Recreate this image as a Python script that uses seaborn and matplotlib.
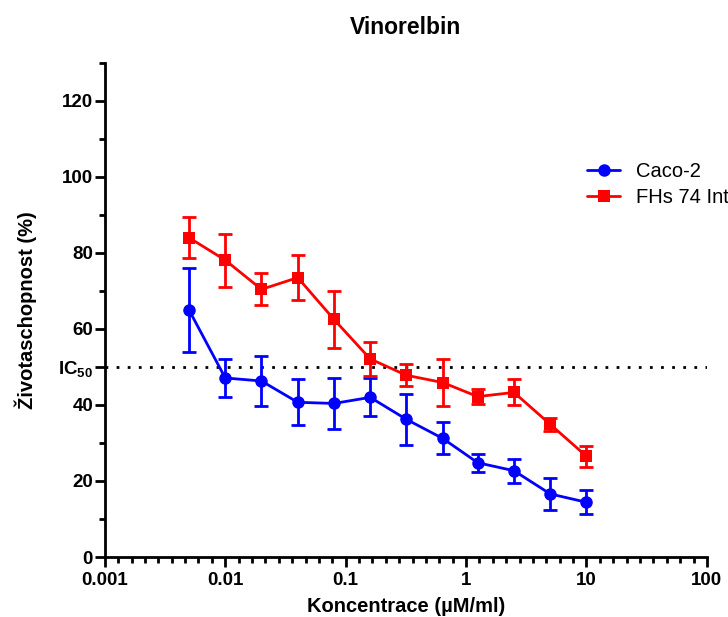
import numpy as np
import pandas as pd
import seaborn as sns
import matplotlib
matplotlib.use('Agg')
import matplotlib.pyplot as plt
from matplotlib.ticker import FixedLocator, NullFormatter

# Data
concentrations = [0.005, 0.01, 0.02, 0.04, 0.08, 0.16, 0.32, 0.64, 1.25, 2.5, 5, 10]
caco2_mean = [65.0, 47.1, 46.3, 40.7, 40.4, 42.0, 36.2, 31.2, 24.8, 22.7, 16.6, 14.4]
caco2_err = [11.0, 5.0, 6.6, 6.0, 6.7, 5.0, 6.8, 4.2, 2.4, 3.2, 4.1, 3.1]
fhs_mean = [84.0, 78.1, 70.4, 73.5, 62.5, 52.1, 47.8, 45.9, 42.2, 43.3, 34.9, 26.5]
fhs_err = [5.4, 7.0, 4.2, 6.0, 7.5, 4.4, 2.9, 6.1, 2.0, 3.4, 1.7, 2.8]
series_names = ['Caco-2', 'FHs 74 Int']
series_colors = ['#0000ff', '#ff0000']
series_markers = ['o', 's']
y_ticks = [0, 20, 40, 50, 60, 80, 100, 120]
y_ticklabels = ['0', '20', '40', r'IC$_{\mathbf{50}}$', '60', '80', '100', '120']
x_ticks = [0.001, 0.01, 0.1, 1, 10, 100]
x_ticklabels = ['0.001', '0.01', '0.1', '1', '10', '100']

df = pd.DataFrame({
    'konc': concentrations * 2,
    'viab': caco2_mean + fhs_mean,
    'err': caco2_err + fhs_err,
    'line': [series_names[0]] * len(concentrations) + [series_names[1]] * len(concentrations),
})

sns.set_style('ticks')
plt.rcParams['font.family'] = ['Liberation Sans', 'DejaVu Sans']
plt.rcParams['mathtext.fontset'] = 'custom'
plt.rcParams['mathtext.rm'] = 'Liberation Sans'
plt.rcParams['mathtext.bf'] = 'Liberation Sans:bold'
plt.rcParams['text.color'] = 'black'
plt.rcParams['axes.labelcolor'] = 'black'
plt.rcParams['xtick.color'] = 'black'
plt.rcParams['ytick.color'] = 'black'

fig = plt.figure(figsize=(7.28, 6.17), dpi=100)
ax = fig.add_axes([0.144, 0.0972, 0.827, 0.801])

# IC50 reference line
ax.axhline(50, color='black', linestyle=(0, (1, 3)), linewidth=2, zorder=1)

for name, color in zip(series_names, series_colors):
    sub = df[df['line'] == name]
    ax.errorbar(sub['konc'], sub['viab'], yerr=sub['err'], fmt='none',
                ecolor=color, elinewidth=2, capsize=5, capthick=2, zorder=2)

sns.lineplot(data=df, x='konc', y='viab', hue='line', style='line',
             palette=series_colors, markers=series_markers, dashes=False,
             markersize=9, markeredgewidth=0, linewidth=2, ax=ax, zorder=3)

ax.set_xscale('log')
ax.set_xlim(0.001, 100)
ax.set_ylim(0, 130)

ax.xaxis.set_major_locator(FixedLocator(x_ticks))
ax.set_xticklabels(x_ticklabels)
minor_x = [10 ** (k + j / 9) for k in range(-3, 2) for j in range(1, 9)]
ax.xaxis.set_minor_locator(FixedLocator(minor_x))
ax.xaxis.set_minor_formatter(NullFormatter())

ax.yaxis.set_major_locator(FixedLocator(y_ticks))
ax.set_yticklabels(y_ticklabels)
ax.yaxis.set_minor_locator(FixedLocator([10, 30, 70, 90, 110, 130]))

for spine in ['top', 'right']:
    ax.spines[spine].set_visible(False)
for spine in ['left', 'bottom']:
    ax.spines[spine].set_linewidth(2)
    ax.spines[spine].set_color('black')

ax.tick_params(axis='both', which='major', length=7, width=2, labelsize=13.5,
               colors='black')
ax.tick_params(axis='y', which='major', pad=1.5)
ax.tick_params(axis='x', which='major', pad=4)
ax.tick_params(axis='both', which='minor', length=4, width=2, colors='black')
for lbl in ax.get_xticklabels() + ax.get_yticklabels():
    lbl.set_fontweight('bold')

ax.set_xlabel('Koncentrace (µM/ml)', fontsize=14.5, fontweight='bold')
ax.xaxis.label.set_va('center')
ax.xaxis.set_label_coords(0.5, (557 - 606) / 494)
ax.set_ylabel('Životaschopnost (%)', fontsize=14.5, fontweight='bold')
ax.yaxis.label.set_va('center')
ax.yaxis.set_label_coords((26 - 105) / 602, 0.5)
ax.set_title('Vinorelbin', fontsize=16.5, fontweight='bold', pad=21, color='black')

handles, labels = ax.get_legend_handles_labels()
leg = ax.legend(handles, labels, loc='upper left', bbox_to_anchor=(0.782, 0.767),
                bbox_transform=fig.transFigure, frameon=False, fontsize=14.5,
                handlelength=1.6, handletextpad=0.8, labelspacing=0.35)

fig.savefig('out.png', dpi=100)
